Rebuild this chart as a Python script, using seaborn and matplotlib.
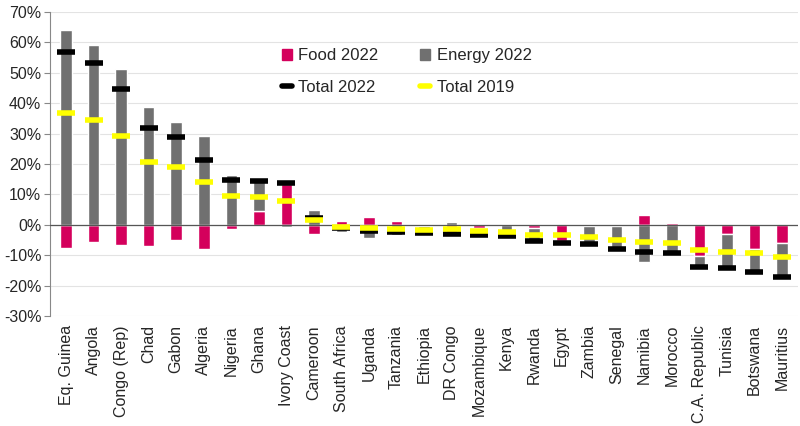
import numpy as np
import pandas as pd
import matplotlib
matplotlib.use('Agg')
import matplotlib.pyplot as plt
import seaborn as sns
from matplotlib.ticker import FuncFormatter
from matplotlib.lines import Line2D
from matplotlib.patches import Patch

sns.set_style('white')
plt.rcParams['font.family'] = ['Liberation Sans', 'DejaVu Sans']

# contributions to inflation (%)
df = pd.DataFrame({
    'country': ['Eq. Guinea', 'Angola', 'Congo (Rep)', 'Chad', 'Gabon', 'Algeria', 'Nigeria',
                'Ghana', 'Ivory Coast', 'Cameroon', 'South Africa', 'Uganda', 'Tanzania',
                'Ethiopia', 'DR Congo', 'Mozambique', 'Kenya', 'Rwanda', 'Egypt', 'Zambia',
                'Senegal', 'Namibia', 'Morocco', 'C.A. Republic', 'Tunisia', 'Botswana', 'Mauritius'],
    'food':   [-7.5, -5.8, -6.7, -6.9, -5.0, -8.1, -1.5, 4.6, 13.4, -2.9, 1.3, 2.6, 1.3,
               -0.3, -3.0, -1.2, 0.3, -1.0, -5.3, -0.5, -0.5, 3.3, 0.7, -10.2, -3.1, -8.0, -5.9],
    'energy': [64.0, 59.1, 51.4, 38.6, 33.9, 29.3, 16.3, 9.9, -0.6, 4.8, -2.3, -4.2, -3.4,
               -2.5, 0.9, -2.2, -3.6, -4.5, -0.6, -5.6, -7.5, -12.2, -9.4, -3.6, -11.1, -7.7, -11.5],
    'total22': [56.7, 53.3, 44.7, 31.9, 28.9, 21.3, 14.9, 14.5, 13.8, 2.4, -0.9, -2.0, -2.2,
                -2.7, -2.9, -3.4, -3.6, -5.2, -5.9, -6.2, -7.8, -8.8, -9.4, -14.0, -14.1, -15.6, -17.2],
    'total19': [36.7, 34.4, 29.1, 20.8, 18.9, 14.0, 9.5, 9.0, 7.9, 1.6, -0.7, -1.1, -1.5,
                -1.8, -1.5, -2.1, -2.5, -3.2, -3.5, -3.9, -4.9, -5.8, -6.0, -8.3, -8.9, -9.4, -10.6],
})

food_c = '#D4005C'
energy_c = '#707070'

fig, ax = plt.subplots(figsize=(8, 4.26), dpi=100)
fig.subplots_adjust(left=0.062, right=0.998, top=0.972, bottom=0.258)

x = np.arange(len(df))
w = 0.42
# food from zero, energy stacked on the same side
sns.barplot(data=df, x='country', y='food', color=food_c, width=w, saturation=1, ax=ax)
same_side = np.sign(df['food']) == np.sign(df['energy'])
bottom = np.where(same_side, df['food'], 0)
ax.bar(x, df['energy'], bottom=bottom, width=w, color=energy_c, zorder=2)

ax.scatter(x, df['total22'], marker='_', s=170, linewidths=4, color='black', zorder=4)
ax.scatter(x, df['total19'], marker='_', s=170, linewidths=4, color='#FFFF00', zorder=5)

ax.axhline(0, color='#555555', lw=0.9, zorder=3)
ax.set_ylim(-30, 70)
ax.set_xlim(-0.6, len(df) - 0.4)
ax.set_yticks(np.arange(-30, 71, 10))
ax.yaxis.set_major_formatter(FuncFormatter(lambda v, p: f'{v:.0f}%'))
ax.grid(axis='y', color='#E3E3E3', lw=0.8, zorder=0)
ax.set_axisbelow(True)
for s in ['top', 'right', 'bottom']:
    ax.spines[s].set_visible(False)
ax.spines['left'].set_color('#888888')
ax.tick_params(axis='y', left=True, length=4, pad=2, color='#888888', labelsize=11.5)
ax.tick_params(axis='x', bottom=False, labelsize=11.5, pad=3)
ax.set_xticks(x)
ax.set_xticklabels(df['country'], rotation=90)
ax.set_xlabel('')
ax.set_ylabel('')

# column-major order so rows read Food/Energy then Total 2022/Total 2019
handles = [Patch(color=food_c), Line2D([], [], color='black', lw=4),
           Patch(color=energy_c), Line2D([], [], color='#FFFF00', lw=4)]
labels = ['Food 2022', 'Total 2022', 'Energy 2022', 'Total 2019']
ax.legend(handles, labels, ncol=2, frameon=False, fontsize=12, loc='upper left',
          bbox_to_anchor=(0.29, 0.93), handlelength=0.6, handletextpad=0.4,
          columnspacing=2.5, labelspacing=1.0)

plt.savefig('out.png', dpi=100)
